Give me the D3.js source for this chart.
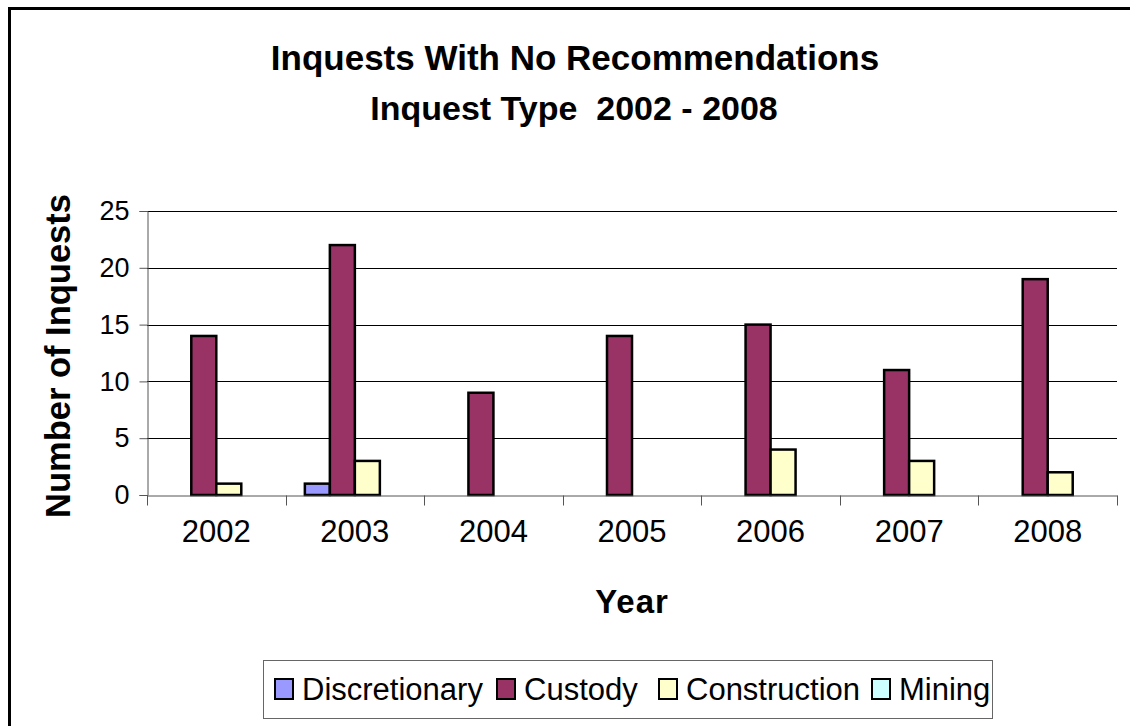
<!DOCTYPE html>
<html>
<head>
<meta charset="utf-8">
<script src="https://cdn.jsdelivr.net/npm/d3@7"></script>
<style>
  body { margin: 0; background: #fff; }
  text { font-family: "Liberation Sans", Arial, sans-serif; fill: #000; }
</style>
</head>
<body>
<div id="chart"></div>
<script>
// 数据
const years = ['2002', '2003', '2004', '2005', '2006', '2007', '2008'];
const seriesNames = ['Discretionary', 'Custody', 'Construction', 'Mining'];
const discretionary = [0, 1, 0, 0, 0, 0, 0];
const custody = [14, 22, 9, 14, 15, 11, 19];
const construction = [1, 3, 0, 0, 4, 3, 2];
const mining = [0, 0, 0, 0, 0, 0, 0];
const yTicks = [0, 5, 10, 15, 20, 25];
const colors = ['#9999ff', '#993366', '#ffffcc', '#ccffff'];

const allSeries = [discretionary, custody, construction, mining];

let width = 1130, height = 726;
let plot = { left: 147, right: 1117, top: 211, bottom: 495 };

let svg = d3.select('#chart').append('svg')
    .attr('width', width)
    .attr('height', height);

// 外框
svg.append('rect')
    .attr('x', 9.5).attr('y', 8.5)
    .attr('width', 1140).attr('height', 740)
    .attr('fill', '#fff')
    .attr('stroke', '#000')
    .attr('stroke-width', 3);

// 比例尺
let x0 = d3.scaleBand().domain(years).range([plot.left, plot.right]).padding(0);
let x1 = d3.scaleBand().domain(seriesNames).range([0, 100]);
let y = d3.scaleLinear().domain([0, 25]).range([plot.bottom, plot.top]);

// 网格线
svg.append('g')
    .selectAll('line')
    .data(yTicks.filter(d => d > 0))
    .enter().append('line')
    .attr('x1', plot.left).attr('x2', plot.right)
    .attr('y1', d => Math.round(y(d)) + 0.5).attr('y2', d => Math.round(y(d)) + 0.5)
    .attr('stroke', '#000').attr('stroke-width', 1);

// 柱子
years.forEach(function(yr, i) {
    let cx = x0(yr) + x0.bandwidth() / 2 - 50;
    svg.append('g')
        .selectAll('rect')
        .data(seriesNames.map((s, k) => ({ s: s, v: allSeries[k][i], c: colors[k] })))
        .enter().append('rect')
        .filter(d => d.v > 0)
        .attr('x', d => cx + x1(d.s))
        .attr('y', d => y(d.v))
        .attr('width', x1.bandwidth())
        .attr('height', d => y(0) - y(d.v))
        .attr('fill', d => d.c)
        .attr('stroke', '#000')
        .attr('stroke-width', 2.5);
});

// y轴
let yAxis = svg.append('g')
    .attr('transform', `translate(${plot.left + 0.5},0)`)
    .call(d3.axisLeft(y).tickValues(yTicks).tickSize(8).tickPadding(10));
yAxis.select('.domain').attr('stroke', '#555');
yAxis.selectAll('.tick line').attr('stroke', '#555');
yAxis.selectAll('text')
    .style('font-size', '27px')
    .attr('fill', '#000');

// x轴
let xAxis = svg.append('g')
    .attr('transform', `translate(0,${plot.bottom + 0.5})`)
    .call(d3.axisBottom(x0).tickSize(0).tickPadding(24));
xAxis.select('.domain').attr('stroke', '#555');
xAxis.selectAll('text')
    .style('font-size', '31px')
    .attr('fill', '#000');
xAxis.selectAll('.sep')
    .data(d3.range(years.length + 1))
    .enter().append('line')
    .attr('x1', d => Math.round(plot.left + d * x0.step()) + 0.5)
    .attr('x2', d => Math.round(plot.left + d * x0.step()) + 0.5)
    .attr('y1', 0).attr('y2', 10)
    .attr('stroke', '#555');

// 标题
svg.append('text')
    .attr('x', 575).attr('y', 70)
    .attr('text-anchor', 'middle')
    .style('font-size', '35px').style('font-weight', 'bold')
    .text('Inquests With No Recommendations');
svg.append('text')
    .attr('x', 574).attr('y', 120)
    .attr('text-anchor', 'middle')
    .style('font-size', '34px').style('font-weight', 'bold')
    .style('white-space', 'pre')
    .text('Inquest Type  2002 - 2008');

// 轴标题
svg.append('text')
    .attr('transform', 'translate(70,356) rotate(-90)')
    .attr('text-anchor', 'middle')
    .style('font-size', '34.5px').style('font-weight', 'bold')
    .text('Number of Inquests');
svg.append('text')
    .attr('x', 632).attr('y', 613)
    .attr('text-anchor', 'middle')
    .style('font-size', '33px').style('font-weight', 'bold')
    .style('letter-spacing', '1px')
    .text('Year');

// 图例
let legend = svg.append('g');
legend.append('rect')
    .attr('x', 263.5).attr('y', 660.5)
    .attr('width', 729).attr('height', 58)
    .attr('fill', '#fff').attr('stroke', '#666');
let lx = [275, 497, 659, 872];
seriesNames.forEach(function(s, k) {
    legend.append('rect')
        .attr('x', lx[k]).attr('y', 679)
        .attr('width', 18).attr('height', 20)
        .attr('fill', colors[k]).attr('stroke', '#000').attr('stroke-width', 2);
    legend.append('text')
        .attr('x', lx[k] + 27).attr('y', 700)
        .style('font-size', '31px')
        .text(s);
});
</script>
</body>
</html>
